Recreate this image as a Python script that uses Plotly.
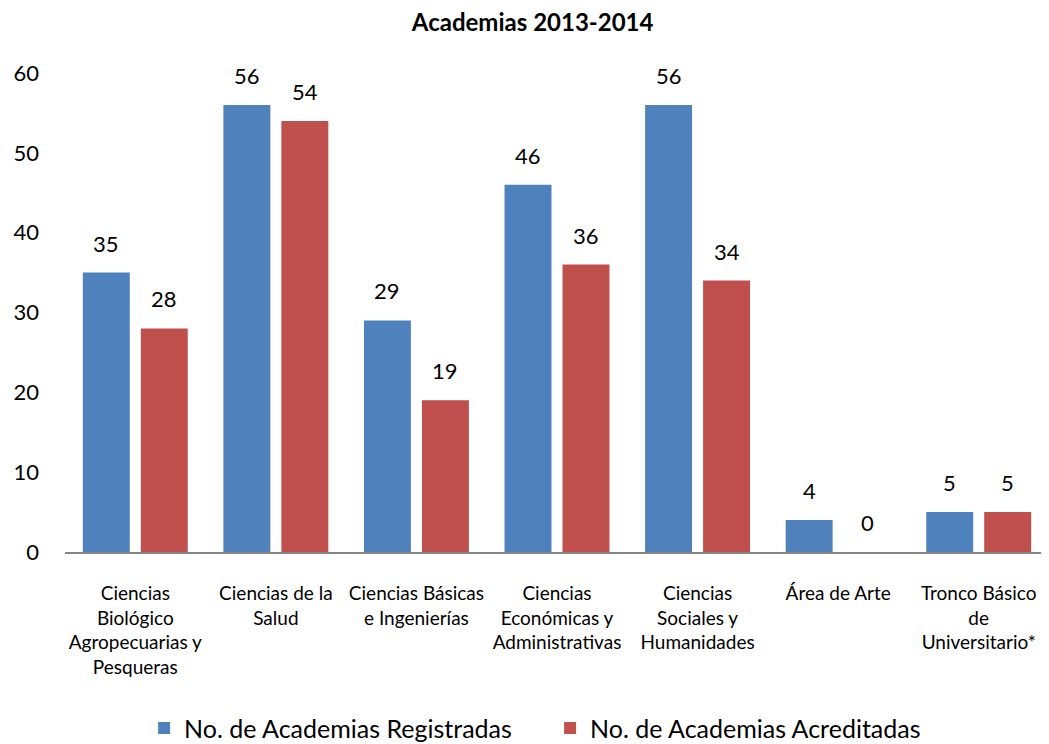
import plotly.graph_objects as go

categories = [
    "Ciencias<br>Biológico<br>Agropecuarias y<br>Pesqueras",
    "Ciencias de la<br>Salud",
    "Ciencias Básicas<br>e Ingenierías",
    "Ciencias<br>Económicas y<br>Administrativas",
    "Ciencias<br>Sociales y<br>Humanidades",
    "Área de Arte",
    "Tronco Básico<br>de<br>Universitario*",
]
registradas = [35, 56, 29, 46, 56, 4, 5]
acreditadas = [28, 54, 19, 36, 34, 0, 5]
series_names = ["No. de Academias Registradas", "No. de Academias Acreditadas"]
colors = ["#4F81BD", "#C0504D"]

FONT = "Lato, Carlito, Calibri, sans-serif"
W, H = 1041, 736  # page body has an 8px margin

fig = go.Figure()
for name, vals, col in zip(series_names, [registradas, acreditadas], colors):
    fig.add_trace(go.Bar(x=categories, y=vals, name=name, marker=dict(color=col, line=dict(width=0))))

annotations = []
for vals, shift in [(registradas, -29), (acreditadas, 29)]:
    for c, v in zip(categories, vals):
        annotations.append(dict(x=c, y=v, text=str(v), showarrow=False, xshift=shift,
                                yanchor="bottom", yshift=14, font=dict(size=22, color="black", family=FONT)))

fig.update_layout(
    width=W, height=H,
    paper_bgcolor="white", plot_bgcolor="white",
    margin=dict(l=57, r=0, t=65, b=192, autoexpand=False),
    barmode="group", bargap=0.175, bargroupgap=0.19,
    title=dict(text="<b>Academias 2013-2014</b>", x=0.504, xanchor="center", y=1 - 15 / H, yanchor="middle",
               font=dict(size=24, color="black", family=FONT)),
    font=dict(family=FONT, color="black"),
    showlegend=True,
    legend=dict(orientation="h", x=0.493, xanchor="center", yref="paper", y=-0.368, yanchor="middle",
                font=dict(size=25, color="black", family=FONT), itemsizing="constant",
                traceorder="normal", entrywidth=361, entrywidthmode="pixels", itemwidth=30),
    annotations=annotations,
)
fig.update_yaxes(range=[0, 60], dtick=10, showgrid=False, zeroline=False, showline=False, automargin=False,
                 tickfont=dict(size=22, color="black", family=FONT), ticks="", ticklabelstandoff=25)
fig.update_xaxes(showline=True, linecolor="#868686", linewidth=2, ticks="", showgrid=False, automargin=False,
                 tickfont=dict(size=19, color="black", family=FONT), ticklabelstandoff=23, tickangle=0)

fig.write_html("out.html")
